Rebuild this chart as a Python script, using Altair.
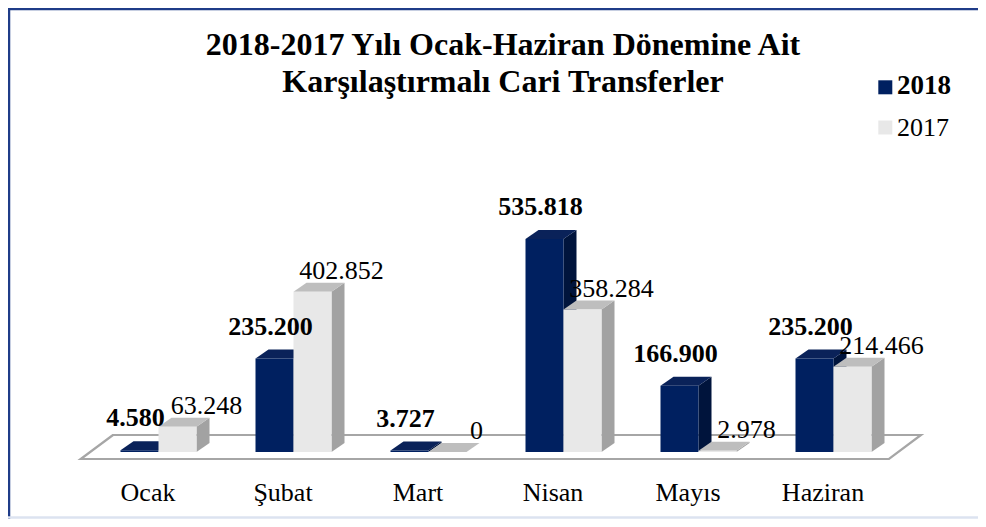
import altair as alt
import pandas as pd

# ---------------- data ----------------
months = ["Ocak", "Şubat", "Mart", "Nisan", "Mayıs", "Haziran"]
years = ["2018", "2017"]
values_2018 = [4580, 235200, 3727, 535818, 166900, 235200]
values_2017 = [63248, 402852, 0, 358284, 2978, 214466]
title_lines = ["2018-2017 Yılı Ocak-Haziran Dönemine Ait",
               "Karşılaştırmalı Cari Transferler"]

# ---------------- style ----------------
front_colors = ["#002060", "#E8E8E8"]
top_colors = ["#0A2259", "#BEBEBE"]
side_colors = ["#00143C", "#A2A2A2"]
FONT = "Liberation Serif"

W, H = 970, 511
STEP_PX = 135.0        # px between month centres
FIRST_PX = 150.5       # plot-x of first month centre
BASE_PX = 444.0        # plot-y of value 0
PX_PER_UNIT = 0.3975 / 1000
BAR_PX = 38.0
DEPTH_X_PX, DEPTH_Y_PX = 13.0, 9.0

x_dom = [-FIRST_PX / STEP_PX, (W - FIRST_PX) / STEP_PX]
y_dom = [-(H - BASE_PX) / PX_PER_UNIT, BASE_PX / PX_PER_UNIT]
bw = BAR_PX / STEP_PX
ddx = DEPTH_X_PX / STEP_PX
ddy = DEPTH_Y_PX / PX_PER_UNIT


def fmt(v):
    return f"{v:,}".replace(",", ".")


rows, tops, sides = [], [], []
for i, m in enumerate(months):
    for j, (yr, vals) in enumerate(zip(years, [values_2018, values_2017])):
        v = vals[i]
        xl = i - bw + j * bw
        xr = xl + bw
        bid = f"{m}-{yr}"
        rows.append(dict(id=bid, month=m, year=yr, value=v, zero=0, xl=xl, xr=xr,
                         xc=(xl + xr) / 2, label=fmt(v), fill=front_colors[j]))
        tops.append(dict(id=bid, year=yr, y=v, x=xl, x2=xr, fill=top_colors[j]))
        tops.append(dict(id=bid, year=yr, y=v + ddy, x=xl + ddx, x2=xr + ddx, fill=top_colors[j]))
        sides.append(dict(id=bid, year=yr, x=xr, y=0, y2=v, fill=side_colors[j]))
        sides.append(dict(id=bid, year=yr, x=xr + ddx, y=ddy, y2=v + ddy, fill=side_colors[j]))
bars = pd.DataFrame(rows)
tops = pd.DataFrame(tops)
sides = pd.DataFrame(sides)

# floor (platform under the bars)
floor_front_px, floor_back_px = 7.0, -17.0
floor = pd.DataFrame([
    dict(y=-floor_front_px / PX_PER_UNIT, x=-0.576, x2=5.411),
    dict(y=-floor_back_px / PX_PER_UNIT, x=-0.337, x2=5.648),
])

xs = alt.Scale(domain=x_dom, nice=False, zero=False)
ys = alt.Scale(domain=y_dom, nice=False, zero=False)
label_expr = "[" + ",".join(f"'{m}'" for m in months) + "][datum.value]"
xaxis = alt.Axis(values=list(range(len(months))), labelExpr=label_expr, domain=False,
                 ticks=False, tickSize=0, grid=False, title=None, labelFont=FONT,
                 labelFontSize=26, labelColor="#000000", labelOffset=-11, labelPadding=10,
                 offset=-37, labelBaseline="middle", labelFlush=False, labelOverlap=False)


def X(f):
    return alt.X(f, type="quantitative", scale=xs, axis=xaxis)


def Y(f):
    return alt.Y(f, type="quantitative", scale=ys, axis=None)


floor_layer = alt.Chart(floor).mark_area(
    orient="horizontal", fill="#FFFFFF", stroke="#A6A6A6", strokeWidth=2.2
).encode(y=Y("y"), x=X("x"), x2="x2")

side_layer = alt.Chart(sides).mark_area(orient="vertical").encode(
    x=X("x"), y=Y("y"), y2="y2", detail="id:N", fill=alt.Fill("fill:N", scale=None))

top_layer = alt.Chart(tops).mark_area(orient="horizontal").encode(
    y=Y("y"), x=X("x"), x2="x2", detail="id:N", fill=alt.Fill("fill:N", scale=None))

front_layer = alt.Chart(bars).mark_rect().encode(
    x=X("xl"), x2="xr", y=Y("zero"), y2="value", fill=alt.Fill("fill:N", scale=None))

lab18 = alt.Chart(bars).transform_filter(alt.datum.year == "2018").transform_calculate(
    ty="datum.value + %f" % ddy).mark_text(
    font=FONT, fontSize=26, fontWeight="bold", color="#000000", baseline="alphabetic",
    align="center", dy=-15, dx=-4).encode(x=X("xc"), y=Y("ty"), text="label:N")

lab17 = alt.Chart(bars).transform_filter(alt.datum.year == "2017").transform_calculate(
    ty="datum.value + %f" % ddy).mark_text(
    font=FONT, fontSize=26, color="#000000", baseline="alphabetic",
    align="center", dy=-4, dx=29).encode(x=X("xc"), y=Y("ty"), text="label:N")

one = pd.DataFrame({"k": [0]})
title_layer = alt.Chart(pd.DataFrame({"t": ["\n".join(title_lines)]})).mark_text(
    font=FONT, fontSize=32, fontWeight="bold", color="#000000", align="center",
    baseline="alphabetic", lineBreak="\n", lineHeight=37
).encode(x=alt.value(495), y=alt.value(47), text="t:N")

legend_layers = []
leg_y = [79.3, 119.5]
leg_text_y = [77.5, 119.7]
for j, yr in enumerate(years):
    d = pd.DataFrame({"year": [yr]})
    legend_layers.append(alt.Chart(d).mark_square(
        size=196, fill=front_colors[j], opacity=1, strokeWidth=0
    ).encode(x=alt.value(877.3), y=alt.value(leg_y[j])))
    legend_layers.append(alt.Chart(d).mark_text(
        font=FONT, fontSize=27 if j == 0 else 26, fontWeight="bold" if j == 0 else "normal",
        color="#000000", align="left", baseline="middle"
    ).encode(x=alt.value(889), y=alt.value(leg_text_y[j]), text="year:N"))

frame = [
    alt.Chart(one).mark_rule(color="#1F3C88", strokeWidth=2.5).encode(
        x=alt.value(0), x2=alt.value(W), y=alt.value(1)),
    alt.Chart(one).mark_rule(color="#1F3C88", strokeWidth=2.5).encode(
        x=alt.value(1), y=alt.value(0), y2=alt.value(H)),
    alt.Chart(one).mark_rule(color="#DCE3F0", strokeWidth=2.5).encode(
        x=alt.value(0), x2=alt.value(W), y=alt.value(H - 1.5)),
]

chart = alt.layer(
    floor_layer, side_layer, top_layer, front_layer, lab18, lab17, title_layer,
    *legend_layers, *frame
).properties(
    width=W, height=H, autosize=alt.AutoSizeParams(type="none"), padding=0,
    background="#FFFFFF"
).configure_view(strokeWidth=0)

chart.save("out.html", embed_options={"renderer": "svg", "actions": False})
